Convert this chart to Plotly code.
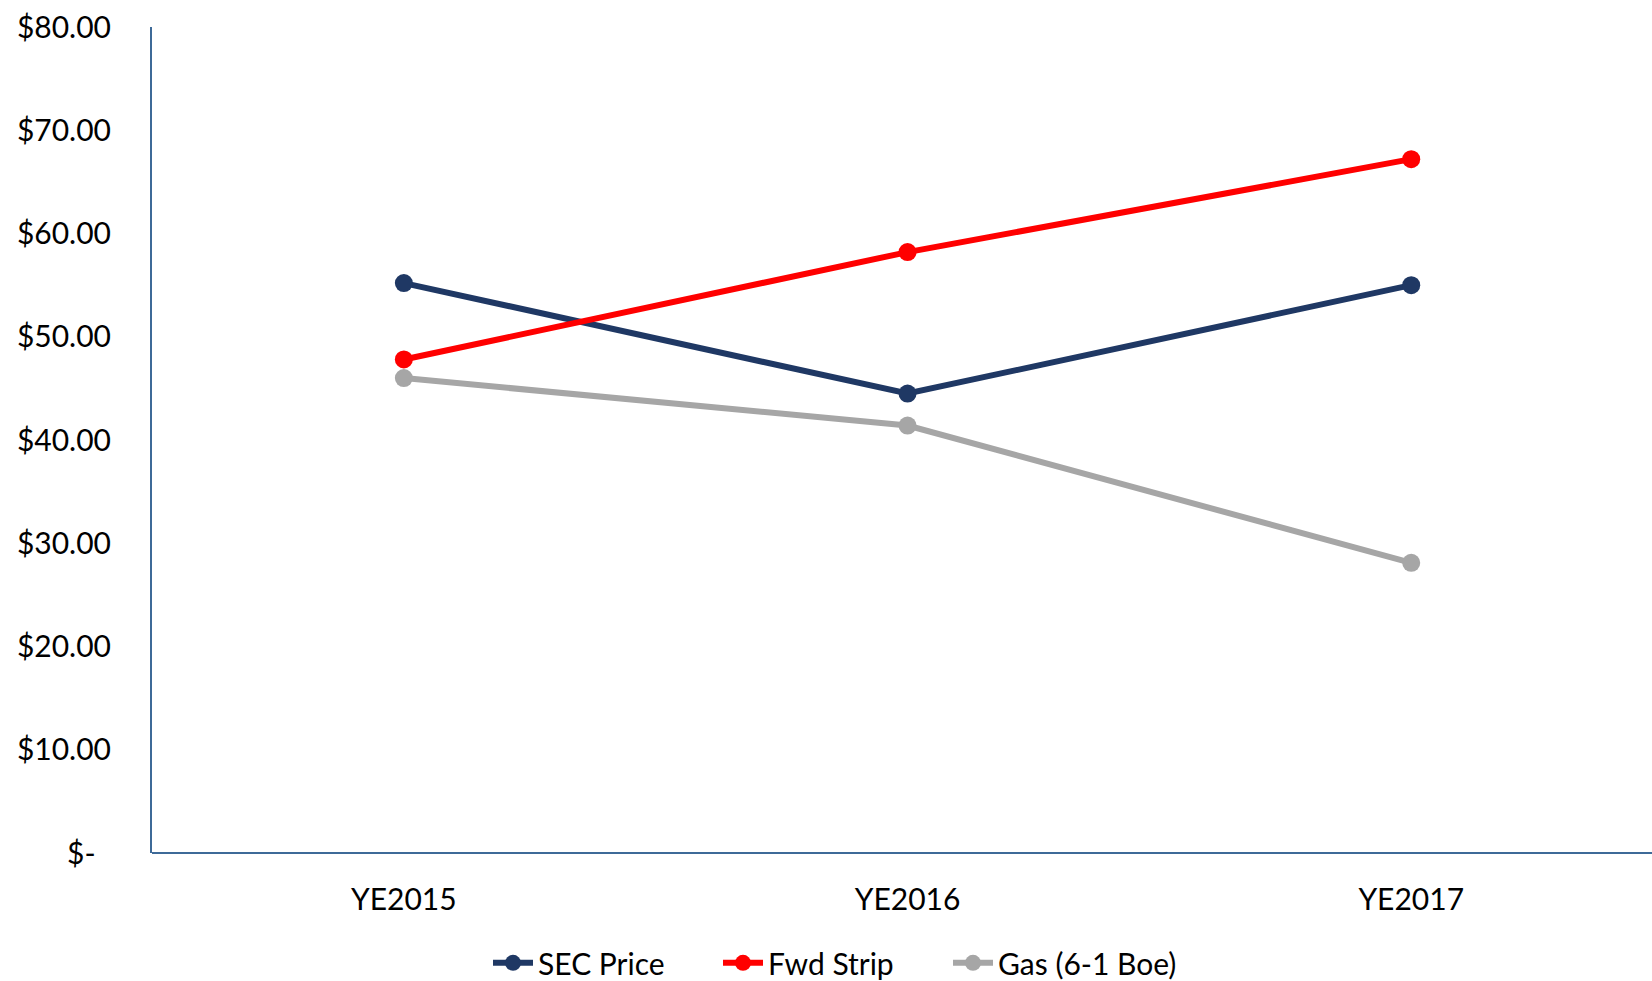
import plotly.graph_objects as go

categories = ["YE2015", "YE2016", "YE2017"]
sec_price = [55.2, 44.5, 55.0]
fwd_strip = [47.8, 58.2, 67.2]
gas_boe = [46.0, 41.4, 28.1]

y_tickvals = [0, 10, 20, 30, 40, 50, 60, 70, 80]
y_ticktext = ["$-\u00a0\u00a0", "$10.00", "$20.00", "$30.00", "$40.00",
              "$50.00", "$60.00", "$70.00", "$80.00"]

FONT = "Lato"

fig = go.Figure()

series = [
    ("Gas (6-1 Boe)", gas_boe, "#A6A6A6", 3),
    ("SEC Price", sec_price, "#1F3864", 1),
    ("Fwd Strip", fwd_strip, "#FF0000", 2),
]
for name, vals, color, rank in series:
    fig.add_trace(go.Scatter(
        x=categories, y=vals, name=name, mode="lines+markers",
        line=dict(color=color, width=6),
        marker=dict(color=color, size=18),
        legendrank=rank,
    ))

fig.update_layout(
    width=1652, height=981,
    margin=dict(l=152, r=0, t=27, b=128, autoexpand=False),
    paper_bgcolor="white", plot_bgcolor="white",
    font=dict(family=FONT, color="black", size=30),
    showlegend=True,
    legend=dict(
        orientation="h", x=0.224, xanchor="left",
        yref="container", y=0.045, yanchor="top",
        font=dict(family=FONT, size=30, color="black"),
        itemwidth=40, tracegroupgap=0,
        entrywidth=175, entrywidthmode="pixels",
    ),
    xaxis=dict(
        type="category", range=[-0.5, 2.478],
        showgrid=False, zeroline=False, showline=False,
        ticks="", ticklabelstandoff=26,
        tickfont=dict(family=FONT, size=30, color="black"),
    ),
    yaxis=dict(
        range=[0, 80], tickvals=y_tickvals, ticktext=y_ticktext,
        showgrid=False, zeroline=False,
        showline=True, linecolor="#3E6A98", linewidth=2,
        ticks="", ticklabelstandoff=33,
        tickfont=dict(family=FONT, size=30, color="black"),
    ),
)
# bottom axis line
fig.add_shape(type="line", xref="paper", yref="paper", x0=0, x1=1, y0=0, y1=0,
              line=dict(color="#3E6A98", width=2), layer="below")

fig.write_html("out.html")
